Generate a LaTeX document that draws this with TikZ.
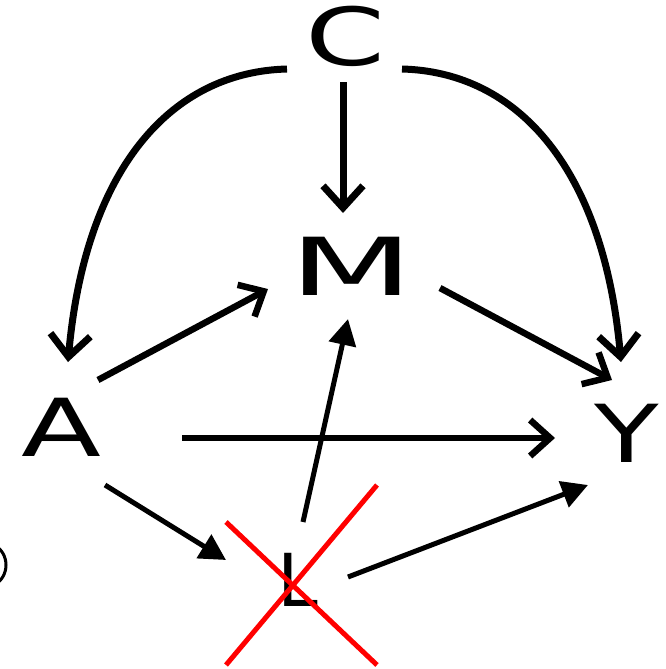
\documentclass[tikz,border=0pt]{standalone}
\usepackage{fontspec}
\setmainfont{DejaVu Sans}
\usetikzlibrary{arrows.meta,calc}
\tikzset{
  lbl/.style={inner sep=0pt, font=\fontsize{80}{90}\selectfont},
  lblsmall/.style={inner sep=0pt, font=\fontsize{73}{80}\selectfont},
  thickarr/.style={line width=7pt, -{Straight Barb[length=22pt,width=40pt]}},
  midarr/.style={line width=6.5pt, -{Straight Barb[length=20pt,width=36pt]}},
  thinarr/.style={line width=5pt, -{Triangle[length=26pt,width=27pt]}},
  cross/.style={draw=red, line width=5pt}
}
\begin{document}
\begin{tikzpicture}[x=1pt,y=-1pt]
\useasboundingbox (0,0) rectangle (665,669);
\node[lbl] (C) at (345,36) {\scalebox{1.43}[1]{C}};
\node[lbl] (M) at (352,266) {\scalebox{1.8}[1]{M}};
\node[lbl] (A) at (61,427) {\scalebox{1.46}[1]{A}};
\node[lbl] (Y) at (627,433) {\scalebox{1.32}[1]{Y}};
\node[lblsmall] (L) at (298,580) {L};
% curved arrows from C
\draw[thickarr] ($(C)+(-58,33)$) .. controls ($(C)+(-175,36)$) and ($(A)+(24,-257)$) .. ($(A)+(7,-65)$);
\draw[thickarr] ($(C)+(57,33)$) .. controls ($(C)+(174,36)$) and ($(Y)+(-23,-263)$) .. ($(Y)+(-6,-71)$);
\draw[thickarr] ($(C)+(-2,46)$) -- ($(M)+(-9,-53)$);
% other open-head arrows
\draw[midarr] ($(A)+(37,-47)$) -- ($(M)+(-84,23)$);
\draw[midarr] ($(M)+(88,22)$) -- ($(Y)+(-15,-53)$);
\draw[midarr] ($(A)+(121,11)$) -- ($(Y)+(-72,5)$);
% arrows involving L
\draw[thinarr] ($(A)+(44,58)$) -- ($(L)+(-72,-20)$);
\draw[thinarr] ($(L)+(5,-58)$) -- ($(M)+(-4,53)$);
\draw[thinarr] ($(L)+(50,-3)$) -- ($(Y)+(-39,52)$);
% red cross over L
\draw[cross] ($(L)+(-72,-58)$) -- ($(L)+(79,85)$);
\draw[cross] ($(L)+(79,-95)$) -- ($(L)+(-72,85)$);
% partial glyph at left edge
\draw[line width=3pt] (-6,545) .. controls (10,553) and (10,577) .. (-6,585);
\end{tikzpicture}
\end{document}
